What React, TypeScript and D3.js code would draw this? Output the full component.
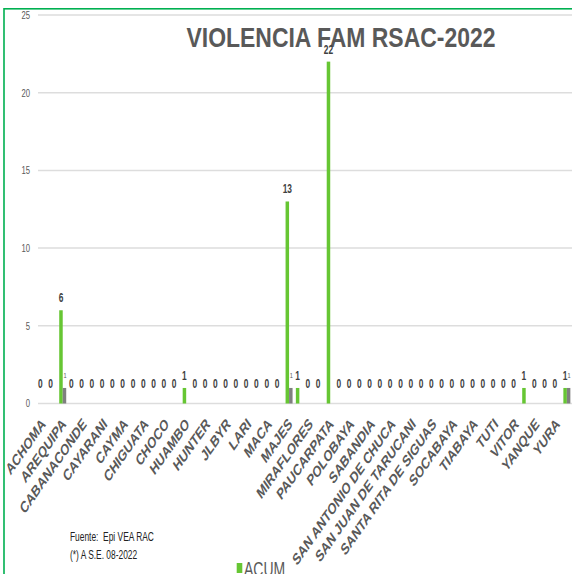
import React from "react";
import * as d3 from "d3";

const categories = [
  "ACHOMA", "ALTO SELVA ALEGRE", "AREQUIPA", "AYO", "CABANACONDE", "CALLALLI",
  "CAYARANI", "CAYLLOMA", "CAYMA", "CERRO COLORADO", "CHIGUATA", "CHIVAY",
  "CHOCO", "COPORAQUE", "HUAMBO", "HUANCA", "HUNTER", "ICHUPAMPA", "JLBYR",
  "LA JOYA", "LARI", "LLUTA", "MACA", "MADRIGAL", "MAJES", "MARIANO MELGAR",
  "MIRAFLORES", "MOLLEBAYA", "PAUCARPATA", "POCSI", "POLOBAYA", "QUEQUEÑA",
  "SABANDIA", "SACHACA", "SAN ANTONIO DE CHUCA", "SAN JUAN DE SIGUAS",
  "SAN JUAN DE TARUCANI", "SANTA ISABEL DE SIGUAS", "SANTA RITA DE SIGUAS",
  "SIBAYO", "SOCABAYA", "TAPAY", "TIABAYA", "TISCO", "TUTI", "UCHUMAYO",
  "VITOR", "YANAHUARA", "YANQUE", "YARABAMBA", "YURA", "OTROS",
];

const acum = [
  0, 0, 6, 0, 0, 0, 0, 0, 0, 0, 0, 0, 0, 0, 1, 0, 0, 0, 0, 0, 0, 0, 0, 0, 13, 1,
  0, 0, 22, 0, 0, 0, 0, 0, 0, 0, 0, 0, 0, 0, 0, 0, 0, 0, 0, 0, 0, 1, 0, 0, 0, 1,
];

const semana: (number | null)[] = [
  null, null, 1, null, null, null, null, null, null, null, null, null, null, null, null, null,
  null, null, null, null, null, null, null, null, 1, null, null, null, null, null, null, null,
  null, null, null, null, null, null, null, null, null, null, null, null, null, null, null, null,
  null, null, null, 1,
];

const seriesNames = ["ACUM", "SE 08"];
const yTicks = [0, 5, 10, 15, 20, 25];
const title = "VIOLENCIA FAM RSAC-2022";
const notes = ["Fuente:  Epi VEA RAC", "(*) A S.E. 08-2022"];

const W = 572;
const H = 574;
const K = 0.7; // horizontal squeeze of the original picture
const FONT = "'Liberation Sans', Arial, sans-serif";
const GREEN = "#66C633";
const GRAY = "#7F7F7F";
const TXT = "#595959";

export default function App() {
  const x0 = d3.scaleBand<string>().domain(categories).range([37, 572]).padding(0);
  const x1 = d3
    .scaleBand<string>()
    .domain(seriesNames)
    .range([0, x0.bandwidth()])
    .paddingInner(0)
    .paddingOuter(0.47);
  const y = d3.scaleLinear().domain([0, 25]).range([403.5, 15]);

  const sq = (x: number, yy: number) => `translate(${x},${yy}) scale(${K},1)`;

  return (
    <svg
      width={W}
      height={H}
      style={{ position: "absolute", left: 0, top: 0, display: "block", background: "#fff" }}
      fontFamily={FONT}
    >
      <rect x={0} y={0} width={W} height={H} fill="#fff" />
      <rect x={4} y={8.8} width={700} height={700} fill="none" stroke="#00B050" strokeWidth={1.6} />

      {/* grid */}
      {yTicks.map((t) => (
        <g key={t}>
          <line x1={38} x2={W} y1={y(t)} y2={y(t)} stroke="#DDDDDD" strokeWidth={1.5} />
          <text transform={sq(30, y(t) + 3.8)} textAnchor="end" fontSize={11} fill={TXT}>
            {t}
          </text>
        </g>
      ))}

      {/* title */}
      <text
        transform={`translate(341,46.7) scale(0.82,1)`}
        textAnchor="middle"
        fontSize={28}
        fontWeight="bold"
        fill={TXT}
      >
        {title}
      </text>

      {/* bars */}
      {categories.map((c, i) => {
        const gx = (x0(c) as number) + (x1("ACUM") as number);
        const sx = (x0(c) as number) + (x1("SE 08") as number);
        const bw = x1.bandwidth();
        const v = acum[i];
        const s = semana[i];
        return (
          <g key={c}>
            <rect x={gx} y={y(v)} width={bw} height={y(0) - y(v)} fill={GREEN} />
            {s !== null && (
              <rect x={sx} y={y(s)} width={bw} height={y(0) - y(s)} fill={GRAY} />
            )}
          </g>
        );
      })}

      {/* labels */}
      {categories.map((c, i) => {
        const bw = x1.bandwidth();
        const gx = (x0(c) as number) + (x1("ACUM") as number) + bw / 2;
        const sx = (x0(c) as number) + (x1("SE 08") as number) + bw / 2;
        const v = acum[i];
        const s = semana[i];
        const ly = v > 0 ? y(v) - 8 : y(0) - 16;
        return (
          <g key={c}>
            <text transform={sq(gx, ly)} textAnchor="middle" fontSize={12} fontWeight="bold" fill="#404040">
              {v}
            </text>
            {s !== null && (
              <text transform={sq(sx + 0.5, y(s) - 10)} textAnchor="middle" fontSize={8} fill={TXT}>
                {s}
              </text>
            )}
          </g>
        );
      })}

      {/* x labels, every other category */}
      {categories.map((c, i) =>
        i % 2 === 0 ? (
          <text
            key={c}
            transform={`translate(${(x0(c) as number) + x0.bandwidth() / 2 + 4},425) scale(${K},1) rotate(-45)`}
            textAnchor="end"
            fontSize={16}
            fontWeight="bold"
            fill={TXT}
          >
            {c}
          </text>
        ) : null
      )}

      {/* footnotes */}
      {notes.map((n, i) => (
        <text key={n} transform={sq(70, 541 + i * 18)} fontSize={12} fill="#222" xmlSpace="preserve">
          {n}
        </text>
      ))}

      {/* legend */}
      <rect x={236.7} y={563} width={5.6} height={10} fill={GREEN} />
      <text transform={sq(244, 576)} fontSize={20} fill={TXT}>
        {seriesNames[0]}
      </text>
    </svg>
  );
}
